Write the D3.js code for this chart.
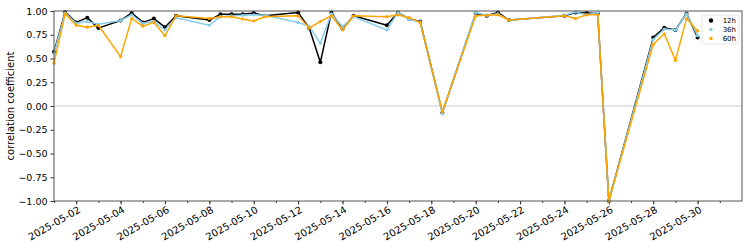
<!DOCTYPE html>
<html>
<head>
<meta charset="utf-8">
<script src="https://cdn.jsdelivr.net/npm/d3@7"></script>
<style>
  body { margin: 0; background: #fff; }
  text { font-family: "DejaVu Sans", sans-serif; }
</style>
</head>
<body>
<svg id="chart" width="750" height="250"></svg>
<script>
// sample times (12h steps, with gaps)
const times = [
  "2025-05-01 00:00", "2025-05-01 12:00", "2025-05-02 00:00", "2025-05-02 12:00", "2025-05-03 00:00",
  "2025-05-04 00:00", "2025-05-04 12:00", "2025-05-05 00:00", "2025-05-05 12:00", "2025-05-06 00:00",
  "2025-05-06 12:00", "2025-05-08 00:00", "2025-05-08 12:00", "2025-05-09 00:00", "2025-05-09 12:00",
  "2025-05-10 00:00", "2025-05-10 12:00", "2025-05-12 00:00", "2025-05-12 12:00", "2025-05-13 00:00",
  "2025-05-13 12:00", "2025-05-14 00:00", "2025-05-14 12:00", "2025-05-16 00:00", "2025-05-16 12:00",
  "2025-05-17 00:00", "2025-05-17 12:00", "2025-05-18 12:00", "2025-05-20 00:00", "2025-05-20 12:00",
  "2025-05-21 00:00", "2025-05-21 12:00", "2025-05-24 00:00", "2025-05-24 12:00", "2025-05-25 00:00",
  "2025-05-25 12:00", "2025-05-26 00:00", "2025-05-28 00:00", "2025-05-28 12:00", "2025-05-29 00:00",
  "2025-05-29 12:00", "2025-05-30 00:00"
];
const corr12h = [
  0.57, 0.99, 0.88, 0.93, 0.82, 0.90, 0.98, 0.88, 0.92, 0.83,
  0.95, 0.905, 0.965, 0.965, 0.965, 0.98, 0.95, 0.985, 0.82, 0.46,
  0.985, 0.81, 0.95, 0.85, 0.985, 0.915, 0.89, -0.07, 0.975, 0.95,
  0.985, 0.905, 0.95, 0.985, 0.98, 0.975, -1.0, 0.72, 0.825, 0.80,
  0.975, 0.72
];
const corr36h = [
  0.55, 0.98, 0.87, 0.89, 0.86, 0.90, 0.96, 0.87, 0.89, 0.80,
  0.93, 0.85, 0.94, 0.95, 0.955, 0.96, 0.955, 0.88, 0.84, 0.66,
  0.97, 0.835, 0.94, 0.80, 0.985, 0.91, 0.885, -0.08, 0.985, 0.955,
  0.97, 0.905, 0.955, 0.99, 0.96, 0.985, -1.0, 0.70, 0.81, 0.80,
  0.97, 0.74
];
const corr60h = [
  0.45, 0.97, 0.85, 0.83, 0.85, 0.52, 0.92, 0.84, 0.88, 0.74,
  0.95, 0.92, 0.94, 0.94, 0.915, 0.895, 0.94, 0.95, 0.82, 0.89,
  0.95, 0.80, 0.95, 0.94, 0.96, 0.93, 0.88, -0.06, 0.95, 0.955,
  0.96, 0.905, 0.95, 0.92, 0.96, 0.96, -1.0, 0.65, 0.76, 0.48,
  0.92, 0.79
];
const seriesNames = ["12h", "36h", "60h"];
const seriesColors = ["#000000", "#87ceeb", "#ffa500"];
const xTickLabels = ["2025-05-02", "2025-05-04", "2025-05-06", "2025-05-08", "2025-05-10", "2025-05-12",
  "2025-05-14", "2025-05-16", "2025-05-18", "2025-05-20", "2025-05-22", "2025-05-24",
  "2025-05-26", "2025-05-28", "2025-05-30"];
const yTicks = [-1.0, -0.75, -0.5, -0.25, 0, 0.25, 0.5, 0.75, 1.0];

const parseTime = d3.timeParse("%Y-%m-%d %H:%M");
const parseDay = d3.timeParse("%Y-%m-%d");
const dates = times.map(parseTime);
const series = [corr12h, corr36h, corr60h].map((vals, i) => ({
  name: seriesNames[i],
  color: seriesColors[i],
  points: vals.map((v, j) => ({ t: dates[j], v: v }))
}));

const svg = d3.select("#chart");
const margin = { top: 11, right: 8, bottom: 49, left: 54 };
const width = 750 - margin.left - margin.right;
const height = 250 - margin.top - margin.bottom;
const g = svg.append("g").attr("transform", `translate(${margin.left},${margin.top})`);

const x = d3.scaleTime()
  .domain([parseDay("2025-05-01"), parseDay("2025-06-01")])
  .range([0, width]);
const y = d3.scaleLinear().domain([-1, 1]).range([height, 0]);

// zero line
g.append("line")
  .attr("x1", 0).attr("x2", width)
  .attr("y1", y(0)).attr("y2", y(0))
  .attr("stroke", "#cccccc").attr("stroke-width", 1);

const fmtY = d => d3.format(".2f")(d).replace("-", "\u2212");

// y axis
const yAxis = g.append("g")
  .call(d3.axisLeft(y).tickValues(yTicks).tickFormat(fmtY).tickSize(3.5).tickPadding(3));
yAxis.select(".domain").remove();
yAxis.selectAll("text").attr("font-size", 9.5).attr("fill", "#000").style("font-family", "DejaVu Sans");
yAxis.selectAll("line").attr("stroke", "#333");

// x axis: minor daily ticks + labelled major ticks
const dayTicks = d3.timeDay.range(parseDay("2025-05-01"), parseDay("2025-06-01"));
const xMinor = g.append("g").attr("transform", `translate(0,${height})`)
  .call(d3.axisBottom(x).tickValues(dayTicks).tickSize(2).tickFormat(""));
xMinor.select(".domain").remove();
xMinor.selectAll("line").attr("stroke", "#333");

const xAxis = g.append("g").attr("transform", `translate(0,${height})`)
  .call(d3.axisBottom(x).tickValues(xTickLabels.map(parseDay)).tickSize(3.5)
    .tickFormat(d3.timeFormat("%Y-%m-%d")));
xAxis.select(".domain").remove();
xAxis.selectAll("line").attr("stroke", "#333");
xAxis.selectAll("text")
  .attr("font-size", 10).attr("fill", "#000").style("font-family", "DejaVu Sans")
  .attr("text-anchor", "end")
  .attr("dy", "0.72em")
  .attr("y", 5)
  .attr("x", 1)
  .attr("transform", "rotate(-30, 0, 5)");

// lines + markers
svg.append("defs").append("clipPath").attr("id", "plotclip")
  .append("rect").attr("x", -3).attr("y", -3).attr("width", width + 6).attr("height", height + 6);
const plot = g.append("g").attr("clip-path", "url(#plotclip)");
const line = d3.line().x(d => x(d.t)).y(d => y(d.v));

series.forEach(s => {
  plot.append("path")
    .datum(s.points)
    .attr("fill", "none")
    .attr("stroke", s.color)
    .attr("stroke-width", 1.5)
    .attr("stroke-linejoin", "round")
    .attr("d", line);
  plot.selectAll(null)
    .data(s.points)
    .join("circle")
    .attr("cx", d => x(d.t))
    .attr("cy", d => y(d.v))
    .attr("r", s.name === "12h" ? 2 : 1.6)
    .attr("fill", s.color);
});

// frame
g.append("rect")
  .attr("width", width).attr("height", height)
  .attr("fill", "none").attr("stroke", "#555").attr("stroke-width", 1);

// y label
svg.append("text")
  .attr("transform", `translate(14,${margin.top + height / 2}) rotate(-90)`)
  .attr("text-anchor", "middle")
  .attr("font-size", 10)
  .text("correlation coefficient");

// legend
const lg = g.append("g").attr("transform", `translate(${width - 40},4)`);
lg.append("rect")
  .attr("width", 37).attr("height", 29).attr("rx", 2)
  .attr("fill", "#fff").attr("fill-opacity", 0.85)
  .attr("stroke", "#ddd").attr("stroke-width", 0.8);
const li = lg.selectAll(".item").data(series).join("g")
  .attr("class", "item")
  .attr("transform", (d, i) => `translate(0,${5.5 + i * 9})`);
li.append("circle")
  .attr("cx", 9).attr("cy", 0)
  .attr("r", d => d.name === "12h" ? 2.2 : 1.7)
  .attr("fill", d => d.color);
li.append("text")
  .attr("x", 34).attr("y", 0).attr("dy", "0.35em")
  .attr("text-anchor", "end")
  .attr("font-size", 7)
  .text(d => d.name);
</script>
</body>
</html>
